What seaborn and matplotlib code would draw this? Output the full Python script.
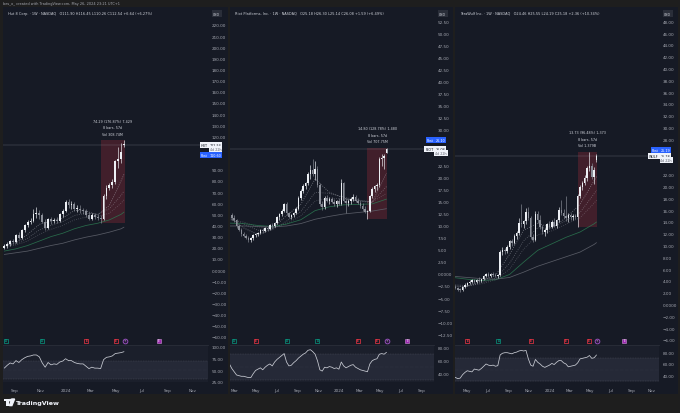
import numpy as np
import pandas as pd
import matplotlib
matplotlib.use("Agg")
import matplotlib.pyplot as plt
import matplotlib.dates as mdates
import matplotlib.ticker as mticker
import matplotlib.transforms as mtransforms
from matplotlib.patches import Rectangle, Polygon, Circle
import seaborn as sns

# ------------------------------------------------------------------ data
credit_text = "bes_o_ created with TradingView.com, May 26, 2024 23:21 UTC+1"
countdown = "4d 22h"

# ---- Panel 1 : Hut 8 Corp. (weekly)
hut_name = "Hut 8 Corp. · 1W · NASDAQ"
hut_ticker = "HUT"
hut_start = "2023-08-07"
hut_open = [20, 22, 23, 26, 25, 31, 29, 36, 40, 43, 44, 50, 51, 49, 43, 38, 46, 44, 45, 44,
            50, 53, 61, 58, 59, 55, 55, 54, 53, 49, 46, 49, 48, 47, 46, 66, 74, 76, 79, 98,
            100, 111.90]
hut_high = [23, 25, 27, 28, 32, 34, 37, 41, 45, 47, 55, 57, 54, 51, 46, 47, 48, 47, 48, 51,
            55, 63, 64, 62, 61, 58, 58, 56, 55, 52, 51, 51, 50, 49, 68, 76, 78, 82, 99, 110,
            114, 116.45]
hut_low = [19, 20, 22, 24, 24, 28, 28, 34, 39, 41, 43, 47, 46, 42, 36, 37, 41, 42, 42, 43,
           48, 52, 56, 55, 53, 52, 51, 50, 48, 45, 45, 46, 45, 42.16, 45, 64, 72, 74, 77, 92,
           96, 110.26]
hut_close = [22, 23, 26, 25, 31, 29, 36, 40, 43, 44, 50, 51, 49, 43, 38, 46, 44, 45, 44, 50,
             53, 61, 58, 59, 55, 55, 54, 53, 49, 46, 49, 48, 47, 46, 66, 74, 76, 79, 98, 100,
             105.90, 112.54]
hut_rsi = [54, 60, 65, 63, 70, 66, 72, 76, 79, 80, 82, 82, 78, 65, 56, 66, 61, 63, 62, 67,
           69, 74, 70, 70, 66, 64, 63, 63, 58, 53, 56, 54, 54, 53, 72, 77, 78, 80, 85, 86,
           87, 89]
hut_ma_idx = [0, 4, 8, 12, 16, 20, 24, 28, 32, 36, 40, 41]
hut_ema_fast = [22, 24.5, 32, 41, 44, 46.5, 53.5, 53, 49.5, 58, 80, 86]
hut_ema_mid = [22, 23.5, 28.5, 36, 40, 43.5, 49, 51, 50, 55, 67, 71]
hut_ema_slow = [21, 22.5, 26, 32, 36.5, 40, 45, 47.5, 48, 51, 60, 63]
hut_ma_green = [17, 19, 22, 26, 30, 33, 37, 40, 42, 45, 50, 52]
hut_ma_gray = [14, 15.5, 17, 19.5, 22, 24, 27, 29.5, 31.5, 34, 37, 38.5]
hut_measure_start = 33
hut_measure = ["74.29 (176.87%) 7,429", "8 bars, 57d", "Vol 308.74M"]
hut_post = 110.60
hut_event_dates = ["2023-08-10", "2023-11-06", "2024-02-20", "2024-05-01", "2024-05-22", "2024-08-12"]
hut_event_kinds = ["D", "D", "E", "E", "C", "S"]

# ---- Panel 2 : Riot Platforms, Inc. (weekly)
riot_name = "Riot Platforms, Inc. · 1W · NASDAQ"
riot_ticker = "RIOT"
riot_start = "2023-02-13"
riot_open = [11.4, 12.3, 11.6, 11.2, 9.9, 9.2, 8.3, 8.0, 7.5, 7.0,
             7.4, 8.1, 8.4, 8.6, 9.1, 8.9, 9.5, 9.3, 10.2, 9.9,
             10.6, 11.8, 12.4, 13.2, 14.5, 12.6, 11.9, 12.2, 12.8, 13.6,
             15.9, 17.3, 18.4, 18.9, 20.8, 21.6, 20.9, 21.9, 18.6, 14.6,
             13.9, 15.8, 15.2, 15.6, 15.0, 14.5, 15.1, 14.6, 18.9, 15.3,
             14.8, 15.2, 15.6, 16.1, 15.3, 14.8, 14.2, 13.6, 13.0, 13.2,
             16.3, 17.8, 18.3, 18.5, 24.0, 24.2, 25.18]
riot_high = [12.6, 12.8, 12.2, 11.5, 10.4, 9.6, 8.8, 8.4, 7.9, 7.7,
             8.3, 8.6, 8.8, 9.4, 9.5, 9.8, 10.0, 10.4, 10.6, 10.8,
             12.0, 12.6, 13.5, 14.8, 14.9, 12.9, 12.4, 13.0, 13.9, 16.2,
             17.6, 18.8, 19.2, 21.2, 22.6, 24.0, 23.5, 22.4, 19.0, 15.3,
             16.2, 16.4, 16.0, 16.1, 15.6, 15.4, 15.8, 19.8, 19.2, 15.9,
             15.7, 16.0, 16.6, 16.4, 15.9, 15.2, 14.7, 14.2, 13.4, 16.5,
             18.1, 18.6, 18.9, 24.3, 24.9, 25.0, 26.30]
riot_low = [11.0, 11.3, 10.8, 9.6, 8.9, 8.0, 7.7, 7.2, 6.7, 6.6,
            7.1, 7.7, 7.9, 8.3, 8.6, 8.7, 9.0, 9.1, 9.6, 9.7,
            10.4, 11.2, 12.0, 12.9, 12.3, 11.6, 11.5, 11.9, 12.5, 13.3,
            15.5, 16.8, 17.6, 18.5, 19.8, 20.4, 19.6, 18.2, 14.2, 13.4,
            13.6, 14.9, 14.6, 14.8, 14.1, 14.0, 14.3, 14.4, 15.0, 12.6,
            14.2, 14.6, 15.1, 15.0, 14.5, 13.8, 13.2, 12.6, 11.49, 13.0,
            15.8, 17.1, 17.4, 18.2, 22.4, 21.8, 25.14]
riot_close = [12.3, 11.6, 11.2, 9.9, 9.2, 8.3, 8.0, 7.5, 7.0, 7.4,
              8.1, 8.4, 8.6, 9.1, 8.9, 9.5, 9.3, 10.2, 9.9, 10.6,
              11.8, 12.4, 13.2, 14.5, 12.6, 11.9, 12.2, 12.8, 13.6, 15.9,
              17.3, 18.4, 18.9, 20.8, 21.6, 20.9, 21.9, 18.6, 14.6, 13.9,
              15.8, 15.2, 15.6, 15.0, 14.5, 15.1, 14.6, 18.9, 15.3, 14.8,
              15.2, 15.6, 16.1, 15.3, 14.8, 14.2, 13.6, 13.0, 13.2, 16.3,
              17.8, 18.3, 18.5, 24.0, 24.2, 24.49, 26.08]
riot_rsi = [55, 48, 43, 38, 37, 36, 36, 35, 34, 34,
            40, 45, 47, 49, 46, 50, 53, 55, 52, 58,
            62, 65, 68, 71, 58, 52, 53, 57, 60, 64,
            67, 70, 72, 76, 77, 74, 70, 60, 46, 44,
            50, 49, 51, 50, 48, 49, 47, 58, 52, 49,
            51, 53, 54, 50, 48, 46, 45, 44, 43, 55,
            60, 62, 63, 70, 71, 70, 73]
riot_ma_idx = [0, 6, 12, 18, 24, 30, 36, 42, 48, 54, 60, 66]
riot_ema_fast = [11.8, 9.6, 8.2, 9.4, 12.2, 14.5, 19.8, 17.0, 15.8, 15.2, 14.9, 21.0]
riot_ema_mid = [11.5, 10.4, 9.1, 9.2, 11.0, 13.0, 17.0, 16.8, 16.0, 15.4, 15.0, 18.2]
riot_ema_slow = [11.3, 10.8, 9.8, 9.5, 10.5, 12.1, 15.2, 15.8, 15.6, 15.3, 15.0, 16.8]
riot_ma_green = [10.6, 10.5, 10.1, 9.9, 10.4, 11.3, 13.2, 14.0, 14.4, 14.5, 14.6, 15.6]
riot_ma_gray = [10.0, 10.0, 9.9, 9.8, 10.0, 10.5, 11.4, 12.0, 12.5, 12.8, 13.1, 13.6]
riot_measure_start = 58
riot_measure = ["14.80 (128.78%) 1,480", "8 bars, 57d", "Vol 707.75M"]
riot_post = 26.10
riot_event_dates = ["2023-02-27", "2023-05-01", "2023-07-31", "2023-10-30", "2024-02-26",
                    "2024-04-22", "2024-05-22", "2024-07-20"]
riot_event_kinds = ["D", "E", "D", "D", "E", "E", "C", "S"]

# ---- Panel 3 : TeraWulf Inc. (weekly)
wulf_name = "TeraWulf Inc. · 1W · NASDAQ"
wulf_ticker = "WULF"
wulf_start = "2023-03-20"
wulf_open = [3.1, 3.0, 2.8, 2.5, 2.4, 2.9, 3.4, 3.7, 3.9, 4.1,
             3.8, 4.2, 4.0, 4.3, 4.8, 5.2, 4.9, 5.1, 5.0, 4.8,
             5.0, 8.9, 9.2, 9.0, 9.8, 10.7, 10.4, 11.6, 12.1, 13.9,
             13.6, 14.1, 15.7, 14.6, 11.5, 11.0, 15.4, 14.4, 13.1, 12.3,
             12.6, 13.6, 13.2, 14.0, 13.4, 14.3, 16.1, 15.5, 15.0, 14.6,
             15.2, 14.8, 15.0, 14.9, 18.4, 20.0, 20.6, 21.5, 23.2, 23.5,
             21.6, 24.46]
wulf_high = [3.5, 3.3, 3.0, 2.8, 3.1, 3.6, 3.9, 4.1, 4.3, 4.4,
             4.3, 4.6, 4.4, 5.0, 5.4, 5.5, 5.3, 5.6, 5.3, 5.2,
             9.3, 9.8, 9.6, 10.1, 11.0, 11.2, 11.9, 12.4, 14.6, 17.0,
             14.4, 16.3, 16.6, 15.0, 12.0, 15.8, 15.9, 15.2, 13.5, 13.0,
             13.9, 14.2, 14.3, 14.6, 14.5, 16.6, 17.8, 16.2, 18.4, 15.5,
             15.6, 15.3, 15.4, 18.7, 20.3, 21.0, 22.0, 23.5, 25.9, 24.0,
             23.3, 25.55]
wulf_low = [2.7, 2.6, 2.3, 2.2, 2.3, 2.8, 3.2, 3.5, 3.6, 3.7,
            3.6, 3.9, 3.8, 4.1, 4.6, 4.7, 4.6, 4.8, 4.6, 4.5,
            4.9, 8.4, 8.6, 8.8, 9.5, 10.0, 10.2, 11.1, 11.8, 13.2,
            12.9, 13.7, 14.3, 11.2, 10.6, 10.8, 13.9, 12.8, 11.9, 11.6,
            12.2, 12.8, 12.9, 13.1, 13.0, 14.0, 15.2, 14.7, 14.2, 14.0,
            14.3, 14.4, 14.5, 13.1, 18.0, 19.5, 20.2, 21.0, 22.6, 21.3,
            20.4, 24.19]
wulf_close = [3.0, 2.8, 2.5, 2.4, 2.9, 3.4, 3.7, 3.9, 4.1, 3.8,
              4.2, 4.0, 4.3, 4.8, 5.2, 4.9, 5.1, 5.0, 4.8, 5.0,
              8.9, 9.2, 9.0, 9.8, 10.7, 10.4, 11.6, 12.1, 13.9, 13.6,
              14.1, 15.7, 14.6, 11.5, 11.0, 15.4, 14.4, 13.1, 12.3, 12.6,
              13.6, 13.2, 14.0, 13.4, 14.3, 16.1, 15.5, 15.0, 14.6, 15.2,
              14.8, 15.0, 14.9, 18.4, 20.0, 20.6, 21.5, 23.2, 23.5, 21.6,
              22.82, 25.18]
wulf_rsi = [38, 36, 34, 35, 41, 45, 48, 47, 46, 51,
            50, 49, 52, 56, 60, 58, 57, 58, 56, 57,
            76, 79, 80, 80, 79, 78, 80, 81, 83, 84,
            83, 84, 69, 58, 56, 68, 63, 60, 56, 54,
            56, 58, 61, 59, 63, 66, 66, 62, 60, 55,
            56, 57, 58, 62, 69, 70, 71, 72, 75, 70,
            71, 76]
wulf_ma_idx = [0, 6, 12, 18, 24, 30, 36, 42, 48, 54, 60, 61]
wulf_ema_fast = [3.0, 3.1, 4.0, 4.9, 8.5, 12.6, 13.8, 13.0, 14.7, 17.0, 21.0, 21.7]
wulf_ema_mid = [3.2, 3.1, 3.7, 4.5, 7.0, 10.8, 13.0, 13.0, 14.2, 15.6, 18.8, 19.4]
wulf_ema_slow = [3.4, 3.2, 3.5, 4.2, 6.0, 9.4, 11.8, 12.5, 13.6, 14.7, 17.2, 17.7]
wulf_ma_green = [4.6, 4.3, 4.1, 4.2, 5.1, 7.2, 9.2, 10.3, 11.4, 12.3, 13.7, 14.0]
wulf_ma_gray = [4.8, 4.6, 4.4, 4.3, 4.6, 5.5, 6.5, 7.3, 8.1, 8.9, 10.2, 10.5]
wulf_measure_start = 53
wulf_measure = ["13.73 (96.48%) 1,373", "8 bars, 57d", "Vol 1.379B"]
wulf_post = 25.19
wulf_event_dates = ["2023-05-01", "2023-08-02", "2023-11-07", "2024-02-19", "2024-04-28",
                    "2024-05-22", "2024-08-11"]
wulf_event_kinds = ["E", "D", "E", "E", "E", "C", "S"]

# ------------------------------------------------------------------ style
W, H, DPI = 680, 414, 100
OUTER = "#1e1e1e"
PANEL = "#161a25"
RSI_BG = "#1b1f2b"
BAND = "#252937"
TXT = "#a6a9b2"
UP = "#eceff4"
DOWN = "#8a8e98"
RED = "#f23645"
GREEN = "#089981"
PURPLE = "#9c27b0"
BLUE = "#2962ff"

sns.set_theme(style="dark")
plt.rcParams["font.family"] = ["DejaVu Sans"]
plt.rcParams["axes.unicode_minus"] = True

fig = plt.figure(figsize=(W / DPI, H / DPI), dpi=DPI)
fig.patch.set_facecolor(OUTER)


def F(x, y):
    return x / W, 1 - y / H


def add_rect(x0, y0, x1, y1, **kw):
    fig.add_artist(Rectangle(F(x0, y1), (x1 - x0) / W, (y1 - y0) / H,
                             transform=fig.transFigure, **kw))


def ftext(x, y, s, **kw):
    fx, fy = F(x, y)
    return fig.text(fx, fy, s, **kw)


def pfmt(v, pos=None):
    if abs(v) < 1e-9:
        return "0.0000"
    s = f"{abs(v):.2f}"
    return "\u2212" + s if v < 0 else s


def mfmt(v, pos=None):
    d = mdates.num2date(v)
    return str(d.year) if d.month == 1 else d.strftime("%b")


panels = [
    dict(name=hut_name, ticker=hut_ticker, start=hut_start, o=hut_open, h=hut_high, l=hut_low,
         c=hut_close, rsi=hut_rsi, ma_idx=hut_ma_idx,
         mas=[hut_ema_fast, hut_ema_mid, hut_ema_slow, hut_ma_green, hut_ma_gray],
         mstart=hut_measure_start, measure=hut_measure, post=hut_post,
         ev_d=hut_event_dates, ev_k=hut_event_kinds,
         L=3, AR=208, R=228, xlast=124, ppw=2.92, ylim=(-66.4, 235.2),
         yticks=np.arange(-60, 221, 10), rlim=(24.5, 103.2), rticks=[25, 50, 75, 100],
         post_dy=10.5),
    dict(name=riot_name, ticker=riot_ticker, start=riot_start, o=riot_open, h=riot_high, l=riot_low,
         c=riot_close, rsi=riot_rsi, ma_idx=riot_ma_idx,
         mas=[riot_ema_fast, riot_ema_mid, riot_ema_slow, riot_ma_green, riot_ma_gray],
         mstart=riot_measure_start, measure=riot_measure, post=riot_post,
         ev_d=riot_event_dates, ev_k=riot_event_kinds,
         L=230, AR=434, R=453, xlast=386.5, ppw=2.38, ylim=(-14.58, 55.4),
         yticks=np.arange(-12.5, 53, 2.5), rlim=(27.2, 84.2), rticks=[40, 60, 80],
         post_dy=-9),
    dict(name=wulf_name, ticker=wulf_ticker, start=wulf_start, o=wulf_open, h=wulf_high, l=wulf_low,
         c=wulf_close, rsi=wulf_rsi, ma_idx=wulf_ma_idx,
         mas=[wulf_ema_fast, wulf_ema_mid, wulf_ema_slow, wulf_ma_green, wulf_ma_gray],
         mstart=wulf_measure_start, measure=wulf_measure, post=wulf_post,
         ev_d=wulf_event_dates, ev_k=wulf_event_kinds,
         L=455, AR=659, R=678, xlast=596.5, ppw=2.35, ylim=(-6.68, 50.27),
         yticks=np.arange(-6, 49, 2), rlim=(28.1, 93.6), rticks=[40, 60, 80],
         post_dy=-6),
]

MAIN_TOP, MAIN_BOT = 9, 345
RSI_TOP, RSI_BOT = 346, 383
MA_STYLES = [("#c9ccd4", ":", 0.6, 0.55), ("#c9ccd4", ":", 0.6, 0.42), ("#c9ccd4", ":", 0.6, 0.32),
             ("#2c7a52", "-", 0.55, 0.85), ("#5f626c", "-", 0.55, 0.9)]

for p in panels:
    L, AR, R = p["L"], p["AR"], p["R"]
    add_rect(L, 8, R, 395, color=PANEL, zorder=-5, lw=0)

    ax = fig.add_axes([L / W, 1 - MAIN_BOT / H, (AR - L) / W, (MAIN_BOT - MAIN_TOP) / H])
    rx = fig.add_axes([L / W, 1 - RSI_BOT / H, (AR - L) / W, (RSI_BOT - RSI_TOP) / H], sharex=ax)
    ax.set_facecolor(PANEL)
    rx.set_facecolor(RSI_BG)

    o, h, l, c = [np.asarray(p[k], float) for k in ("o", "h", "l", "c")]
    dates = pd.date_range(p["start"], periods=len(c), freq="7D")
    x = mdates.date2num(dates.to_pydatetime())
    y0, y1 = p["ylim"]

    # measurement box
    s = p["mstart"]
    bx0, bx1 = x[s], x[-1] + 2.5
    by0, by1 = l[s], h[s:].max()
    ax.add_patch(Rectangle((bx0, by0), bx1 - bx0, by1 - by0, color=RED, alpha=0.2, lw=0, zorder=1))
    for line, off in zip(p["measure"], [14.0, 9.3, 4.6]):
        ax.annotate(line, xy=((bx0 + bx1) / 2, by1), xytext=(0, off), textcoords="offset points",
                    ha="center", va="center", fontsize=2.4, color="#d1d4dc", zorder=8)

    # last price line
    ax.axhline(c[-1], color="#9598a1", lw=0.35, alpha=0.5, zorder=1)

    # moving averages
    mx = x[np.asarray(p["ma_idx"])]
    for vals, (col, ls, lw, a) in zip(p["mas"], MA_STYLES):
        sns.lineplot(x=mx, y=np.asarray(vals, float), ax=ax, color=col, linestyle=ls, lw=lw,
                     alpha=a, legend=False, zorder=2)

    # candles
    up = c >= o
    cols = np.where(up, UP, DOWN)
    ax.vlines(x, l, h, colors=cols, lw=0.45, zorder=3)
    body = np.maximum(np.abs(c - o), (y1 - y0) * 0.003)
    ax.bar(x, body, bottom=np.minimum(o, c), width=4.4, color=cols, lw=0, zorder=4)

    # events row
    tr = mtransforms.blended_transform_factory(ax.transData, ax.transAxes)
    ey = (MAIN_BOT - 341.5) / (MAIN_BOT - MAIN_TOP)
    for d, k in zip(p["ev_d"], p["ev_k"]):
        xd = mdates.date2num(pd.Timestamp(d).to_pydatetime())
        if k in ("D", "E"):
            col = GREEN if k == "D" else RED
            ax.scatter([xd], [ey], transform=tr, marker="s", s=11, facecolor=PANEL,
                       edgecolor=col, lw=0.5, zorder=6, clip_on=False)
            ax.text(xd, ey, k, transform=tr, fontsize=2.0, color=col, ha="center",
                    va="center", zorder=7, fontweight="bold")
        elif k == "C":
            ax.scatter([xd], [ey], transform=tr, marker="o", s=12, facecolor="#2a1b3d",
                       edgecolor="#b65ee0", lw=0.5, zorder=6, clip_on=False)
            ax.text(xd, ey, "+", transform=tr, fontsize=2.2, color="#e1bee7", ha="center",
                    va="center", zorder=7)
        else:
            ax.scatter([xd], [ey], transform=tr, marker="s", s=11, facecolor=PURPLE,
                       edgecolor="#ce93d8", lw=0.4, zorder=6, clip_on=False)
            ax.text(xd, ey, "E", transform=tr, fontsize=2.0, color="white", ha="center",
                    va="center", zorder=7)

    # axes ranges
    last = x[-1]
    xl = last - (p["xlast"] - L) / p["ppw"] * 7
    xr = last + (AR - p["xlast"]) / p["ppw"] * 7
    ax.set_xlim(xl, xr)
    ax.set_ylim(y0, y1)

    def ypx(v):
        return MAIN_TOP + (y1 - v) / (y1 - y0) * (MAIN_BOT - MAIN_TOP)

    yc = ypx(c[-1])
    yp = yc + p["post_dy"]
    busy = [(yc - 5, yc + 7), (yp - 4, yp + 4), (0, 19)]
    ticks = [t for t in p["yticks"] if not any(a <= ypx(t) <= b for a, b in busy)]
    ax.set_yticks(ticks)
    ax.yaxis.set_major_formatter(mticker.FuncFormatter(pfmt))
    ax.yaxis.tick_right()
    ax.tick_params(axis="y", length=0, pad=2.6, labelsize=3.0, labelcolor=TXT)
    ax.tick_params(axis="x", length=0, labelbottom=False)
    ax.grid(False)
    ax.set_xlabel("")
    ax.set_ylabel("")
    for sp in ax.spines.values():
        sp.set_visible(False)

    # RSI pane
    rsi = np.asarray(p["rsi"], float)
    rx.axhspan(30, 70, color=BAND, lw=0, zorder=0)
    rx.axhline(70, color="#787b86", lw=0.3, ls=(0, (2, 2)), alpha=0.6, zorder=1)
    rx.axhline(30, color="#787b86", lw=0.3, ls=(0, (2, 2)), alpha=0.6, zorder=1)
    rx.axhline(50, color="#787b86", lw=0.3, ls=(0, (1, 2)), alpha=0.35, zorder=1)
    sns.lineplot(x=x, y=rsi, ax=rx, color="#c9ccd4", lw=0.55, legend=False, zorder=3)
    rx.set_ylim(*p["rlim"])
    rx.set_yticks(p["rticks"])
    rx.yaxis.set_major_formatter(mticker.FuncFormatter(pfmt))
    rx.yaxis.tick_right()
    rx.tick_params(axis="y", length=0, pad=2.6, labelsize=3.0, labelcolor=TXT)
    rx.xaxis.set_major_locator(mdates.MonthLocator(bymonth=[1, 3, 5, 7, 9, 11]))
    rx.xaxis.set_major_formatter(mticker.FuncFormatter(mfmt))
    rx.tick_params(axis="x", length=0, pad=4.2, labelsize=3.0, labelcolor=TXT)
    rx.grid(False)
    rx.set_xlabel("")
    rx.set_ylabel("")
    for k, sp in rx.spines.items():
        sp.set_visible(k == "top")
    rx.spines["top"].set_color("#2a2e39")
    rx.spines["top"].set_linewidth(0.6)
    ax.set_xlim(xl, xr)

    # header & currency box
    chg = c[-1] - c[-2]
    hdr = (f"{p['name']}   O{o[-1]:.2f} H{h[-1]:.2f} L{l[-1]:.2f} C{c[-1]:.2f} "
           f"{chg:+.2f} ({chg / c[-2] * 100:+.2f}%)")
    ftext(L + 5, 13.5, hdr, fontsize=2.5, color="#d1d4dc", va="center", ha="left")
    ftext(AR + 8.5, 14.5, "USD", fontsize=2.3, color="#d1d4dc", va="center", ha="center",
          bbox=dict(boxstyle="square,pad=0.45", fc="#2a2e39", ec="none"), zorder=8)

    # price tags
    tag_kw = dict(fontsize=2.4, va="center", zorder=9)
    ftext(AR - 0.5, yc, p["ticker"], ha="right", color="#131722",
          bbox=dict(boxstyle="square,pad=0.3", fc="#f0f3fa", ec="none"), **tag_kw)
    ftext(AR + 1.5, yc, f"{c[-1]:.2f}", ha="left", color="#131722",
          bbox=dict(boxstyle="square,pad=0.3", fc="#f0f3fa", ec="none"), **tag_kw)
    ftext(AR + 1.5, yc + 4.2, countdown, ha="left", color="#5d606b",
          bbox=dict(boxstyle="square,pad=0.3", fc="#f0f3fa", ec="none"), **tag_kw)
    ftext(AR - 0.5, yp, "Post", ha="right", color="white",
          bbox=dict(boxstyle="square,pad=0.3", fc=BLUE, ec="none"), **tag_kw)
    ftext(AR + 1.5, yp, f"{p['post']:.2f}", ha="left", color="white",
          bbox=dict(boxstyle="square,pad=0.3", fc=BLUE, ec="none"), **tag_kw)

# top credit line
ftext(3, 4, credit_text, fontsize=2.5, color=TXT, va="center", ha="left")

# TradingView logo + wordmark
add_rect(3.5, 400, 8.5, 402.2, color="#f0f3fa", lw=0, zorder=5)
add_rect(6.2, 400, 8.5, 406.6, color="#f0f3fa", lw=0, zorder=5)
fig.add_artist(Circle(F(10.3, 401.2), 1.1 / W, transform=fig.transFigure, color="#f0f3fa", zorder=5))
fig.add_artist(Polygon([F(11.8, 400), F(14.6, 400), F(11.9, 406.6), F(9.4, 406.6)],
                       closed=True, transform=fig.transFigure, color="#f0f3fa", zorder=5))
ftext(16, 403.3, "TradingView", fontsize=4.6, color="#f0f3fa", fontweight="bold",
      va="center", ha="left")

fig.savefig("out.png", dpi=DPI, facecolor=fig.get_facecolor())
